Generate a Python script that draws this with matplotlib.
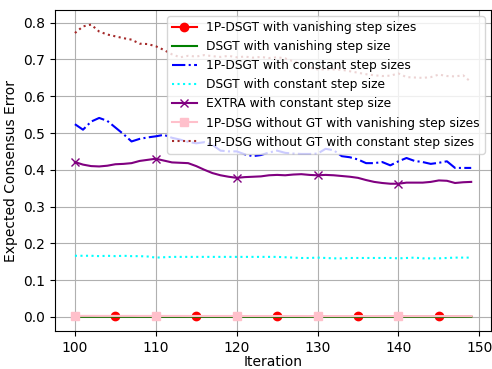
import numpy as np
import matplotlib
matplotlib.use("Agg")
import matplotlib.pyplot as plt

iters = np.arange(100, 150)

# near-zero runs (vanishing step sizes)
dsgt1p_vanish = [0.0014, 0.0014, 0.0014, 0.0013, 0.0013, 0.0013, 0.0013, 0.0013, 0.0013, 0.0012,
                 0.0012, 0.0012, 0.0012, 0.0012, 0.0012, 0.0011, 0.0011, 0.0011, 0.0011, 0.0011,
                 0.0011, 0.0011, 0.0010, 0.0010, 0.0010, 0.0010, 0.0010, 0.0010, 0.0010, 0.0010,
                 0.0010, 0.0009, 0.0009, 0.0009, 0.0009, 0.0009, 0.0009, 0.0009, 0.0009, 0.0009,
                 0.0009, 0.0009, 0.0008, 0.0008, 0.0008, 0.0008, 0.0008, 0.0008, 0.0008, 0.0008]
dsgt_vanish = [0.0002, 0.0002, 0.0002, 0.0002, 0.0002, 0.0002, 0.0002, 0.0002, 0.0002, 0.0002,
               0.0002, 0.0002, 0.0002, 0.0002, 0.0002, 0.0002, 0.0002, 0.0002, 0.0002, 0.0002,
               0.0001, 0.0001, 0.0001, 0.0001, 0.0001, 0.0001, 0.0001, 0.0001, 0.0001, 0.0001,
               0.0001, 0.0001, 0.0001, 0.0001, 0.0001, 0.0001, 0.0001, 0.0001, 0.0001, 0.0001,
               0.0001, 0.0001, 0.0001, 0.0001, 0.0001, 0.0001, 0.0001, 0.0001, 0.0001, 0.0001]
dsg_vanish = [0.0025, 0.0025, 0.0025, 0.0024, 0.0024, 0.0024, 0.0024, 0.0024, 0.0023, 0.0023,
              0.0023, 0.0023, 0.0023, 0.0023, 0.0022, 0.0022, 0.0022, 0.0022, 0.0022, 0.0022,
              0.0022, 0.0021, 0.0021, 0.0021, 0.0021, 0.0021, 0.0021, 0.0021, 0.0021, 0.0020,
              0.0020, 0.0020, 0.0020, 0.0020, 0.0020, 0.0020, 0.0020, 0.0020, 0.0019, 0.0019,
              0.0019, 0.0019, 0.0019, 0.0019, 0.0019, 0.0019, 0.0019, 0.0019, 0.0019, 0.0018]

dsgt1p_const = [0.524, 0.509, 0.531, 0.541, 0.533, 0.515, 0.497, 0.477, 0.484, 0.488,
                0.491, 0.495, 0.487, 0.482, 0.476, 0.472, 0.475, 0.468, 0.452, 0.450,
                0.450, 0.442, 0.437, 0.440, 0.447, 0.452, 0.446, 0.444, 0.443, 0.443,
                0.444, 0.457, 0.453, 0.437, 0.434, 0.428, 0.418, 0.418, 0.421, 0.412,
                0.423, 0.432, 0.424, 0.421, 0.416, 0.419, 0.423, 0.405, 0.405, 0.405]
dsgt_const = [0.166, 0.166, 0.166, 0.165, 0.166, 0.165, 0.166, 0.165, 0.165, 0.164,
              0.161, 0.162, 0.163, 0.163, 0.163, 0.163, 0.163, 0.163, 0.163, 0.163,
              0.163, 0.163, 0.163, 0.163, 0.163, 0.163, 0.162, 0.161, 0.160, 0.160,
              0.161, 0.160, 0.159, 0.159, 0.160, 0.160, 0.160, 0.160, 0.160, 0.160,
              0.159, 0.160, 0.161, 0.159, 0.159, 0.159, 0.160, 0.161, 0.161, 0.161]
extra_const = [0.421, 0.414, 0.410, 0.409, 0.411, 0.415, 0.416, 0.418, 0.424, 0.427,
               0.430, 0.425, 0.420, 0.419, 0.418, 0.410, 0.400, 0.391, 0.385, 0.381,
               0.378, 0.380, 0.381, 0.382, 0.385, 0.386, 0.385, 0.387, 0.388, 0.386,
               0.385, 0.386, 0.385, 0.383, 0.381, 0.378, 0.372, 0.367, 0.364, 0.362,
               0.362, 0.365, 0.365, 0.365, 0.367, 0.371, 0.370, 0.364, 0.366, 0.367]
dsg_const = [0.772, 0.790, 0.795, 0.776, 0.768, 0.763, 0.758, 0.754, 0.743, 0.742,
             0.736, 0.726, 0.714, 0.706, 0.710, 0.708, 0.712, 0.709, 0.707, 0.710,
             0.706, 0.708, 0.705, 0.707, 0.704, 0.706, 0.703, 0.695, 0.687, 0.678,
             0.673, 0.673, 0.673, 0.672, 0.668, 0.664, 0.660, 0.657, 0.655, 0.656,
             0.662, 0.652, 0.651, 0.650, 0.652, 0.659, 0.655, 0.654, 0.657, 0.638]

fig = plt.figure(figsize=(4.92, 3.69), dpi=100)
ax = fig.add_axes([0.112, 0.102, 0.886, 0.871])

ax.plot(iters, dsgt1p_vanish, 'r-o', markevery=(5, 10), label='1P-DSGT with vanishing step sizes')
ax.plot(iters, dsgt_vanish, 'g-', label='DSGT with vanishing step size')
ax.plot(iters, dsgt1p_const, 'b-.', label='1P-DSGT with constant step sizes')
ax.plot(iters, dsgt_const, color='cyan', linestyle=':', label='DSGT with constant step size')
ax.plot(iters, extra_const, color='purple', marker='x', markevery=10, label='EXTRA with constant step size')
ax.plot(iters, dsg_vanish, color='pink', marker='s', markevery=10, label='1P-DSG without GT with vanishing step sizes')
ax.plot(iters, dsg_const, color='brown', linestyle=':', label='1P-DSG without GT with constant step sizes')

ax.set_xlabel('Iteration', labelpad=0)
ax.set_ylabel('Expected Consensus Error')
ax.grid(True)
ax.legend(loc='upper right', fontsize=8.8)

fig.savefig('out.png', dpi=100)
